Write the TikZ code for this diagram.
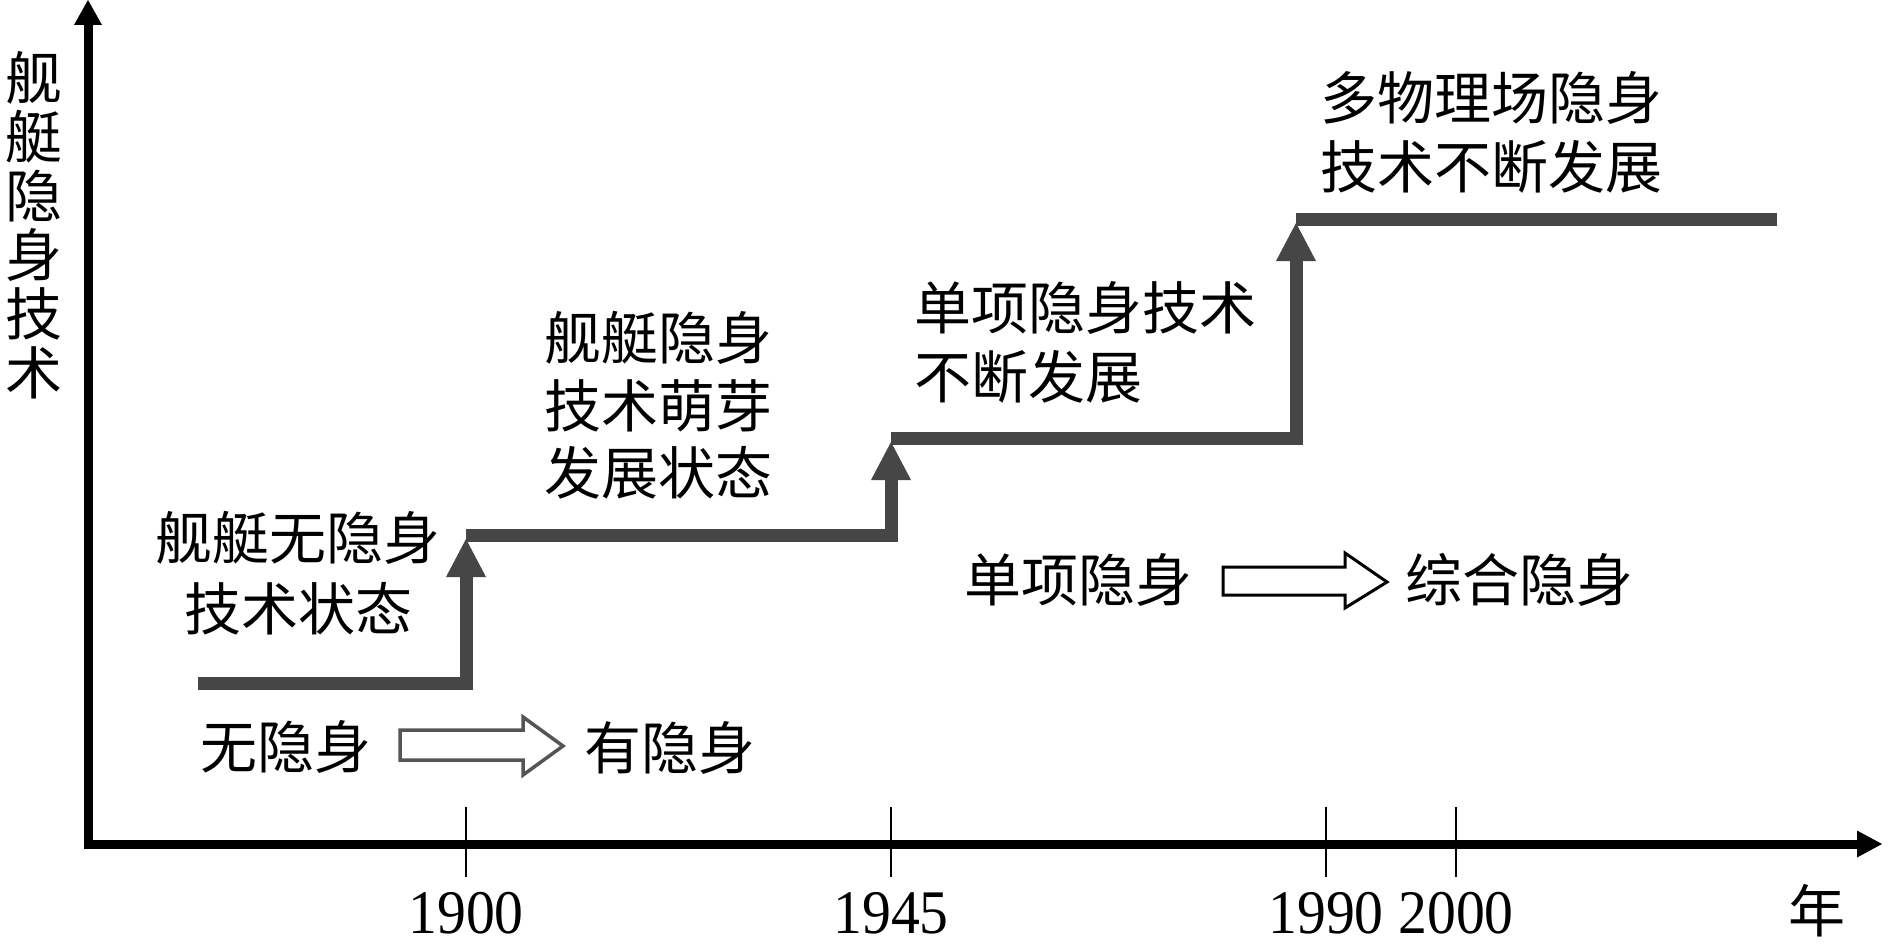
\documentclass[tikz,border=0pt]{standalone}
\usepackage{fontspec}
\setmainfont{Liberation Serif}
\newfontfamily\cjk{Noto Sans CJK SC}
\usetikzlibrary{arrows.meta}
\definecolor{stepgray}{RGB}{70,70,70}
\definecolor{hollowgray}{RGB}{85,85,85}
\begin{document}
\begin{tikzpicture}[x=1pt,y=-1pt,
  axisline/.style={line width=9pt, black, line join=miter},
  tickline/.style={line width=2.5pt, black},
  stepline/.style={line width=13pt, stepgray, line join=miter},
  steparrow/.style={stepline, -{Triangle[width=40pt,length=38pt,line width=0pt]}},
  cjktext/.style={font=\cjk\fontsize{57}{69}\selectfont, inner sep=0pt},
  yeartext/.style={font=\fontsize{62}{70}\selectfont, inner sep=0pt},
  hollowA/.style={draw=hollowgray, line width=3.5pt, fill=white, line join=miter},
  hollowB/.style={draw=black, line width=3pt, fill=white, line join=miter}]
\useasboundingbox (0,0) rectangle (1890,950);
\fill[white] (0,0) rectangle (1890,950);

% axes
\coordinate (ytop) at (88,0);
\coordinate (orig) at (88,844);
\coordinate (xend) at (1882,844);
\draw[axisline, {Triangle[width=28pt,length=25pt,line width=0pt]}-{Triangle[width=27pt,length=25pt,line width=0pt]}] (ytop) -- (orig) -- (xend);

% ticks
\foreach \x/\n in {466/a,891/b,1326/c,1456/d}{
  \coordinate (tk\n top) at (\x,807);
  \coordinate (tk\n bot) at (\x,877);
  \draw[tickline] (tk\n top) -- (tk\n bot);
}

% year labels
\node[yeartext] (y1900) at (466,913) {\scalebox{0.93}[1]{1900}};
\node[yeartext] (y1945) at (891,913) {\scalebox{0.93}[1]{1945}};
\node[yeartext] (y1990) at (1326,913) {\scalebox{0.93}[1]{1990}};
\node[yeartext] (y2000) at (1456,913) {\scalebox{0.93}[1]{2000}};
\node[cjktext] (nian) at (1817,911) {年};

% y axis label
\node[cjktext, font=\cjk\fontsize{57}{59}\selectfont, align=center] (ylab) at (34,225) {舰\\艇\\隐\\身\\技\\术};

% step line
\coordinate (s0) at (198,683);
\coordinate (s1) at (466,683);
\coordinate (t1) at (466,539);
\coordinate (u1) at (466,535);
\coordinate (s2) at (891,535);
\coordinate (t2) at (891,442);
\coordinate (u2) at (891,438);
\coordinate (s3) at (1296,438);
\coordinate (t3) at (1296,223);
\coordinate (u3) at (1296,219);
\coordinate (e3) at (1777,219);
\draw[steparrow] (s0) -- (s1) -- (t1);
\draw[steparrow] (u1) -- (s2) -- (t2);
\draw[steparrow] (u2) -- (s3) -- (t3);
\draw[stepline] (u3) -- (e3);

% stage texts
\node[cjktext, align=center, font=\cjk\fontsize{57}{71}\selectfont] (stA) at (298,573.5) {舰艇无隐身\\技术状态};
\node[cjktext, align=center, font=\cjk\fontsize{57}{67.5}\selectfont] (stB) at (658,405.5) {舰艇隐身\\技术萌芽\\发展状态};
\node[cjktext, align=left, anchor=west] (stC) at (914,342.5) {单项隐身技术\\不断发展};
\node[cjktext, align=left, anchor=west] (stD) at (1320,132.5) {多物理场隐身\\技术不断发展};

% transitions
\node[cjktext] (wu) at (286,747) {无隐身};
\node[cjktext] (you) at (670,748) {有隐身};
\coordinate (ha) at (400,745);
\draw[hollowA, shift={(ha)}] (0,-15) -- (123,-15) -- (123,-28) -- (163,1) -- (123,30) -- (123,15) -- (0,15) -- cycle;

\node[cjktext] (dan) at (1078,580) {单项隐身};
\node[cjktext] (zong) at (1519,580) {综合隐身};
\coordinate (hb) at (1223,581);
\draw[hollowB, shift={(hb)}] (0,-14) -- (122,-14) -- (122,-28) -- (164,1) -- (122,27) -- (122,14) -- (0,14) -- cycle;
\end{tikzpicture}
\end{document}
